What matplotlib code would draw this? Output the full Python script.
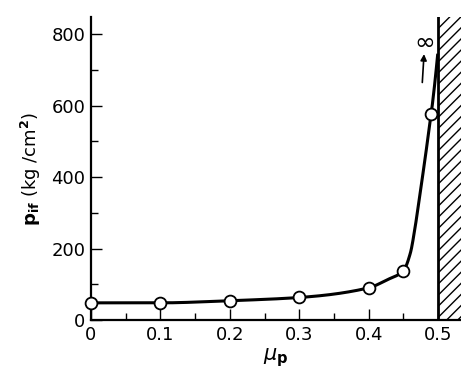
import numpy as np
import matplotlib
matplotlib.use("Agg")
import matplotlib.pyplot as plt

# measured points (open circles)
mu_pts = [0.0, 0.1, 0.2, 0.3, 0.4, 0.45, 0.49]
p_pts = [48, 48, 54, 63, 90, 138, 576]

# points
mu_curve = [0.0, 0.1, 0.2, 0.3, 0.4, 0.426, 0.45, 0.46, 0.467, 0.474, 0.481,
            0.4875, 0.49, 0.4957, 0.4993]
p_curve = [48, 48, 54, 63, 90, 112, 138, 187, 261, 354, 448, 541, 576, 671, 741]

xticks = [0, 0.1, 0.2, 0.3, 0.4, 0.5]
xticklabels = ["0", "0.1", "0.2", "0.3", "0.4", "0.5"]
yticks = [0, 200, 400, 600, 800]
yticklabels = ["0", "200", "400", "600", "800"]


def pchip(x, y, xn):
    x = np.asarray(x, float); y = np.asarray(y, float)
    h = np.diff(x); d = np.diff(y) / h
    m = np.zeros_like(y)
    for k in range(1, len(x) - 1):
        if d[k - 1] * d[k] <= 0:
            m[k] = 0
        else:
            w1 = 2 * h[k] + h[k - 1]; w2 = h[k] + 2 * h[k - 1]
            m[k] = (w1 + w2) / (w1 / d[k - 1] + w2 / d[k])
    m[0] = d[0]; m[-1] = d[-1]
    out = np.empty_like(xn)
    for i, xv in enumerate(xn):
        k = min(np.searchsorted(x, xv) - 1, len(x) - 2); k = max(k, 0)
        t = (xv - x[k]) / h[k]
        h00 = 2*t**3 - 3*t**2 + 1; h10 = t**3 - 2*t**2 + t
        h01 = -2*t**3 + 3*t**2; h11 = t**3 - t**2
        out[i] = h00*y[k] + h10*h[k]*m[k] + h01*y[k+1] + h11*h[k]*m[k+1]
    return out


plt.rcParams['font.family'] = ['DejaVu Sans']
plt.rcParams['hatch.linewidth'] = 1.0
fig = plt.figure(figsize=(4.61, 3.74), dpi=100)
ax = fig.add_axes([91/461, 54/374, 370/461, 303/374])

xs = np.linspace(mu_curve[0], mu_curve[-1], 800)
ax.plot(xs, pchip(mu_curve, p_curve, xs), color='black', lw=2.2, zorder=3)
ax.plot(mu_pts, p_pts, 'o', ms=8.5, mfc='white', mec='black', mew=1.3, zorder=4,
        clip_on=False)

ax.axvspan(0.5, 0.56, facecolor='none', edgecolor='black', hatch='///', lw=0)
ax.axvline(0.5, color='black', lw=2)

ax.annotate('', xy=(0.480, 752), xytext=(0.477, 657),
            arrowprops=dict(arrowstyle='-|>', color='black', lw=1.2,
                            mutation_scale=9))
ax.text(0.481, 775, '∞', ha='center', va='center', fontsize=18)

ax.set_xlim(0, 0.533)
ax.set_ylim(0, 848)
ax.set_xticks(xticks)
ax.set_xticklabels(xticklabels)
ax.set_yticks(yticks)
ax.set_yticklabels(yticklabels)
ax.set_xticks([0.05, 0.15, 0.25, 0.35, 0.45], minor=True)
ax.set_yticks([100, 300, 500, 700], minor=True)
ax.tick_params(which='major', direction='in', length=8, width=1, labelsize=13, pad=4)
ax.tick_params(which='minor', direction='in', length=5, width=1)
for s in ['top', 'right']:
    ax.spines[s].set_visible(False)
for s in ['left', 'bottom']:
    ax.spines[s].set_linewidth(1.6)

ax.set_xlabel(r'$\mu_{\mathbf{p}}$', fontsize=15, labelpad=2)
ax.set_ylabel(r'$\mathbf{p}_{\mathbf{if}}$ (kg /cm$^{\mathbf{2}}$)', fontsize=13, labelpad=6)

fig.savefig('out.png', dpi=100)
